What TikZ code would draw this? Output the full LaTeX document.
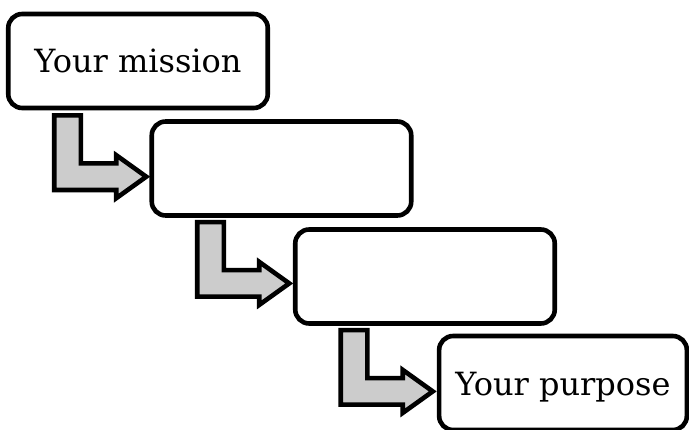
\documentclass[tikz,border=0pt]{standalone}
\usepackage{fontspec}
\setmainfont{DejaVu Serif}
\usetikzlibrary{calc}
\begin{document}
\begin{tikzpicture}[x=1pt,y=-1pt,
  box/.style={draw=black, line width=4.6pt, rounded corners=14pt,
    minimum width=259.5pt, minimum height=94pt, outer sep=0pt, inner sep=0pt,
    font=\fontsize{32}{38}\selectfont, text depth=0pt, fill=white},
  bentarrow/.pic={\draw[line width=4.6pt, fill=gray!40, line join=miter]
    (0,0) -- (26.6,0) -- (26.6,48) -- (62,48) -- (62,39.8) -- (92,61.3)
    -- (62,82.8) -- (62,74.6) -- (0,74.6) -- cycle;}]
\useasboundingbox (0,0) rectangle (689,430);
\node[box] (b1) at (138,61) {Your mission};
\node[box] (b2) at (281.5,168.5) {};
\node[box] (b3) at (425,276.5) {};
\node[box, minimum width=247.7pt] (b4) at (563,383) {\raisebox{-2pt}{Your purpose}};
\pic at ($(b1.south west)+(46,7.4)$) {bentarrow};
\pic at ($(b2.south west)+(45.5,6.6)$) {bentarrow};
\pic at ($(b3.south west)+(45.5,6.6)$) {bentarrow};
\end{tikzpicture}
\end{document}
